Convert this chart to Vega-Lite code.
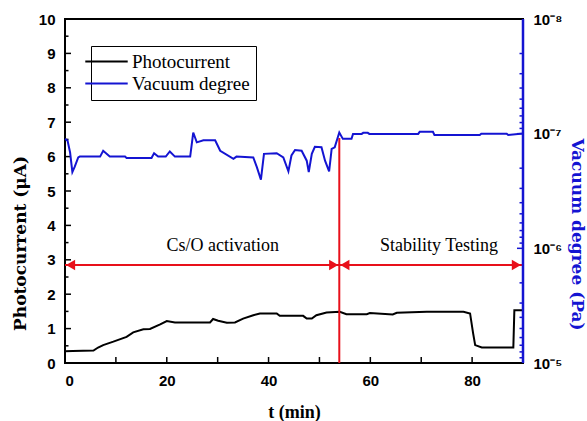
{
  "$schema": "https://vega.github.io/schema/vega-lite/v6.json",
  "width": 458,
  "height": 344,
  "autosize": "none",
  "padding": {"left": 65, "top": 19, "right": 64, "bottom": 58},
  "background": "white",
  "config": {
    "view": {"stroke": "black", "strokeWidth": 2},
    "axis": {
      "grid": false,
      "domain": false,
      "ticks": false,
      "tickSize": 0,
      "labelFont": "Liberation Sans",
      "labelFontWeight": "bold",
      "labelFontSize": 15,
      "labelColor": "black",
      "titleFont": "DejaVu Serif",
      "titleFontWeight": "bold",
      "titleFontSize": 17
    }
  },
  "datasets": {
    "current": [
      {"t": 0, "current": 0.34}, {"t": 1.5, "current": 0.35}, {"t": 5.6, "current": 0.36}, {"t": 6.5, "current": 0.45},
      {"t": 7.5, "current": 0.52}, {"t": 9.5, "current": 0.62}, {"t": 12.1, "current": 0.76}, {"t": 13.4, "current": 0.89},
      {"t": 15.4, "current": 0.98}, {"t": 16.7, "current": 0.99}, {"t": 18.7, "current": 1.12}, {"t": 20, "current": 1.22},
      {"t": 21.6, "current": 1.18}, {"t": 28.5, "current": 1.18}, {"t": 29.1, "current": 1.28}, {"t": 30.1, "current": 1.23},
      {"t": 31.8, "current": 1.17}, {"t": 33.4, "current": 1.18}, {"t": 35, "current": 1.29}, {"t": 37, "current": 1.39},
      {"t": 38.3, "current": 1.44}, {"t": 41.6, "current": 1.44}, {"t": 42.2, "current": 1.37}, {"t": 46.8, "current": 1.37},
      {"t": 47.5, "current": 1.29}, {"t": 48.5, "current": 1.29}, {"t": 49.4, "current": 1.39}, {"t": 51.4, "current": 1.47},
      {"t": 54, "current": 1.49}, {"t": 55.3, "current": 1.42}, {"t": 59.3, "current": 1.42}, {"t": 59.9, "current": 1.45},
      {"t": 64.4, "current": 1.41}, {"t": 65.2, "current": 1.46}, {"t": 71.1, "current": 1.49}, {"t": 78.3, "current": 1.49},
      {"t": 79.6, "current": 1.44}, {"t": 80.2, "current": 0.86}, {"t": 80.6, "current": 0.52}, {"t": 81.9, "current": 0.45},
      {"t": 88.1, "current": 0.45}, {"t": 88.3, "current": 1.53}, {"t": 90, "current": 1.53}
    ],
    "vacuum": [
      {"t": 0, "p": 1.11e-7}, {"t": 0.5, "p": 1.15e-7}, {"t": 1.0, "p": 1.46e-7}, {"t": 1.45, "p": 2.16e-7},
      {"t": 1.9, "p": 1.95e-7}, {"t": 2.6, "p": 1.61e-7}, {"t": 2.9, "p": 1.585e-7}, {"t": 6.9, "p": 1.585e-7},
      {"t": 7.5, "p": 1.41e-7}, {"t": 8.8, "p": 1.585e-7}, {"t": 11.8, "p": 1.585e-7}, {"t": 12.1, "p": 1.63e-7},
      {"t": 17.0, "p": 1.63e-7}, {"t": 17.5, "p": 1.48e-7}, {"t": 18.3, "p": 1.585e-7}, {"t": 19.8, "p": 1.585e-7},
      {"t": 20.6, "p": 1.43e-7}, {"t": 21.6, "p": 1.585e-7}, {"t": 24.6, "p": 1.585e-7}, {"t": 25.2, "p": 9.77e-8},
      {"t": 25.9, "p": 1.19e-7}, {"t": 27.2, "p": 1.14e-7}, {"t": 29.5, "p": 1.14e-7}, {"t": 30.5, "p": 1.41e-7},
      {"t": 33.1, "p": 1.66e-7}, {"t": 33.7, "p": 1.585e-7}, {"t": 37.0, "p": 1.61e-7}, {"t": 37.7, "p": 1.96e-7},
      {"t": 38.5, "p": 2.52e-7}, {"t": 39.1, "p": 1.5e-7}, {"t": 41.6, "p": 1.48e-7}, {"t": 42.9, "p": 1.61e-7},
      {"t": 43.9, "p": 2.13e-7}, {"t": 44.5, "p": 1.55e-7}, {"t": 45.2, "p": 1.39e-7}, {"t": 46.5, "p": 1.41e-7},
      {"t": 47.5, "p": 1.72e-7}, {"t": 47.9, "p": 2.16e-7}, {"t": 48.5, "p": 1.5e-7}, {"t": 49.1, "p": 1.3e-7},
      {"t": 50.4, "p": 1.315e-7}, {"t": 51.1, "p": 1.72e-7}, {"t": 51.9, "p": 2.13e-7}, {"t": 52.4, "p": 1.36e-7},
      {"t": 53.0, "p": 1.315e-7}, {"t": 53.9, "p": 9.77e-8}, {"t": 54.6, "p": 1.11e-7}, {"t": 56.3, "p": 1.11e-7},
      {"t": 56.6, "p": 1.005e-7}, {"t": 58.3, "p": 1.005e-7}, {"t": 58.6, "p": 9.84e-8}, {"t": 59.5, "p": 9.84e-8},
      {"t": 59.8, "p": 1.005e-7}, {"t": 69.4, "p": 1.005e-7}, {"t": 69.7, "p": 9.64e-8}, {"t": 72.3, "p": 9.64e-8},
      {"t": 72.6, "p": 1.026e-7}, {"t": 81.5, "p": 1.026e-7}, {"t": 81.8, "p": 1.0e-7}, {"t": 86.8, "p": 1.0e-7},
      {"t": 87.1, "p": 1.026e-7}, {"t": 90, "p": 9.98e-8}
    ],
    "marker": [{"t": 53.9, "v0": 0, "v1": 6.54}],
    "frame": [{"t": 90, "v0": 0, "v1": 10}],
    "yMajor": [{"v": 1}, {"v": 2}, {"v": 3}, {"v": 4}, {"v": 5}, {"v": 6}, {"v": 7}, {"v": 8}, {"v": 9}],
    "yMinor": [{"v": 0.5}, {"v": 1.5}, {"v": 2.5}, {"v": 3.5}, {"v": 4.5}, {"v": 5.5}, {"v": 6.5}, {"v": 7.5}, {"v": 8.5}, {"v": 9.5}],
    "xTicks": [{"t": 10}, {"t": 20}, {"t": 30}, {"t": 40}, {"t": 50}, {"t": 60}, {"t": 70}, {"t": 80}],
    "pMajor": [{"p": 1e-7}, {"p": 1e-6}],
    "pMinor": [
      {"p": 2e-8}, {"p": 3e-8}, {"p": 4e-8}, {"p": 5e-8}, {"p": 6e-8}, {"p": 7e-8}, {"p": 8e-8}, {"p": 9e-8},
      {"p": 2e-7}, {"p": 3e-7}, {"p": 4e-7}, {"p": 5e-7}, {"p": 6e-7}, {"p": 7e-7}, {"p": 8e-7}, {"p": 9e-7},
      {"p": 2e-6}, {"p": 3e-6}, {"p": 4e-6}, {"p": 5e-6}, {"p": 6e-6}, {"p": 7e-6}, {"p": 8e-6}, {"p": 9e-6}
    ],
    "arrows": [{"t0": 0, "t1": 53.9, "v": 2.85}, {"t0": 53.9, "t1": 89.8, "v": 2.85}],
    "heads": [
      {"t": 1.1, "v": 2.85, "dir": "left"}, {"t": 52.8, "v": 2.85, "dir": "right"},
      {"t": 55.0, "v": 2.85, "dir": "left"}, {"t": 88.7, "v": 2.85, "dir": "right"}
    ],
    "notes": [
      {"t": 31, "v": 3.4, "label": "Cs/O activation"},
      {"t": 73.5, "v": 3.4, "label": "Stability Testing"}
    ]
  },
  "layer": [
    {
      "data": {"name": "current"},
      "mark": {"type": "line", "color": "black", "strokeWidth": 2},
      "encoding": {
        "x": {
          "field": "t", "type": "quantitative",
          "scale": {"domain": [0, 90], "nice": false},
          "axis": {
            "title": "t (min)",
            "values": [0, 20, 40, 60, 80],
            "labelOverlap": false,
            "labelPadding": 10, "titlePadding": 15, "titleFontSize": 18,
            "titleFont": "Liberation Serif"
          }
        },
        "y": {
          "field": "current", "type": "quantitative",
          "scale": {"domain": [0, 10], "nice": false},
          "axis": {
            "title": "Photocurrent (μA)",
            "format": ".0f",
            "values": [0, 1, 2, 3, 4, 5, 6, 7, 8, 9, 10],
            "labelOverlap": false,
            "labelPadding": 10, "titlePadding": 9, "titleY": 224
          }
        },
        "color": {
          "datum": "Photocurrent",
          "type": "nominal",
          "scale": {"domain": ["Photocurrent", "Vacuum degree"], "range": ["black", "#1414d2"]},
          "legend": {
            "title": null,
            "orient": "none", "legendX": 26, "legendY": 27,
            "direction": "vertical",
            "symbolType": "M-3,0L3,0", "symbolSize": 200, "symbolStrokeWidth": 2,
            "labelFont": "Liberation Serif", "labelFontSize": 19, "labelColor": "black",
            "strokeColor": "black", "fillColor": "white", "padding": 6, "rowPadding": 2,
            "labelOffset": 16
          }
        }
      }
    },
    {
      "data": {"name": "yMajor"},
      "mark": {"type": "tick", "orient": "horizontal", "color": "black", "size": 6, "thickness": 1.5, "xOffset": 3, "opacity": 1},
      "encoding": {
        "x": {"datum": 0, "type": "quantitative"},
        "y": {"field": "v", "type": "quantitative", "scale": {"domain": [0, 10], "nice": false}, "axis": null}
      }
    },
    {
      "data": {"name": "yMinor"},
      "mark": {"type": "tick", "orient": "horizontal", "color": "black", "size": 3.5, "thickness": 1.5, "xOffset": 1.75, "opacity": 1},
      "encoding": {
        "x": {"datum": 0, "type": "quantitative"},
        "y": {"field": "v", "type": "quantitative", "scale": {"domain": [0, 10], "nice": false}, "axis": null}
      }
    },
    {
      "data": {"name": "xTicks"},
      "mark": {"type": "tick", "orient": "vertical", "color": "black", "size": 6, "thickness": 1.5, "yOffset": -3, "opacity": 1},
      "encoding": {
        "x": {"field": "t", "type": "quantitative"},
        "y": {"datum": 0, "type": "quantitative", "scale": {"domain": [0, 10], "nice": false}, "axis": null}
      }
    },
    {
      "data": {"name": "marker"},
      "mark": {"type": "rule", "color": "#e8101a", "strokeWidth": 2},
      "encoding": {
        "x": {"field": "t", "type": "quantitative"},
        "y": {"field": "v0", "type": "quantitative", "scale": {"domain": [0, 10], "nice": false}, "axis": null},
        "y2": {"field": "v1"}
      }
    },
    {
      "data": {"name": "arrows"},
      "mark": {"type": "rule", "color": "#e8101a", "strokeWidth": 2},
      "encoding": {
        "x": {"field": "t0", "type": "quantitative"},
        "x2": {"field": "t1"},
        "y": {"field": "v", "type": "quantitative", "scale": {"domain": [0, 10], "nice": false}, "axis": null}
      }
    },
    {
      "data": {"name": "heads"},
      "mark": {"type": "point", "filled": true, "color": "#e8101a", "opacity": 1, "size": 110},
      "encoding": {
        "x": {"field": "t", "type": "quantitative"},
        "y": {"field": "v", "type": "quantitative", "scale": {"domain": [0, 10], "nice": false}, "axis": null},
        "shape": {
          "field": "dir", "type": "nominal",
          "scale": {"domain": ["left", "right"], "range": ["triangle-left", "triangle-right"]},
          "legend": null
        }
      }
    },
    {
      "data": {"name": "notes"},
      "mark": {"type": "text", "font": "Liberation Serif", "fontSize": 18, "color": "black", "baseline": "middle"},
      "encoding": {
        "x": {"field": "t", "type": "quantitative"},
        "y": {"field": "v", "type": "quantitative", "scale": {"domain": [0, 10], "nice": false}, "axis": null},
        "text": {"field": "label"}
      }
    },
    {
      "data": {"name": "vacuum"},
      "mark": {"type": "line", "strokeWidth": 2},
      "encoding": {
        "x": {"field": "t", "type": "quantitative"},
        "y": {
          "field": "p", "type": "quantitative",
          "scale": {"type": "log", "domain": [1e-5, 1e-8], "nice": false},
          "axis": {
            "orient": "right",
            "title": "Vacuum degree (Pa)",
            "titleColor": "#1414d2",
            "values": [1e-8, 1e-7, 1e-6, 1e-5],
            "labelExpr": "datum.value == 1e-8 ? '10⁻⁸' : datum.value == 1e-7 ? '10⁻⁷' : datum.value == 1e-6 ? '10⁻⁶' : '10⁻⁵'",
            "labelOverlap": false,
            "labelPadding": 10, "titlePadding": 6, "titleY": 215
          }
        },
        "color": {"datum": "Vacuum degree", "type": "nominal"}
      }
    },
    {
      "data": {"name": "pMajor"},
      "mark": {"type": "tick", "orient": "horizontal", "color": "#1414d2", "size": 6, "thickness": 1.5, "xOffset": -3, "opacity": 1},
      "encoding": {
        "x": {"datum": 90, "type": "quantitative"},
        "y": {"field": "p", "type": "quantitative", "scale": {"type": "log", "domain": [1e-5, 1e-8], "nice": false}, "axis": null}
      }
    },
    {
      "data": {"name": "pMinor"},
      "mark": {"type": "tick", "orient": "horizontal", "color": "#1414d2", "size": 3.5, "thickness": 1.5, "xOffset": -1.75, "opacity": 1},
      "encoding": {
        "x": {"datum": 90, "type": "quantitative"},
        "y": {"field": "p", "type": "quantitative", "scale": {"type": "log", "domain": [1e-5, 1e-8], "nice": false}, "axis": null}
      }
    },
    {
      "data": {"name": "frame"},
      "mark": {"type": "rule", "color": "#1414d2", "strokeWidth": 2.5},
      "encoding": {
        "x": {"field": "t", "type": "quantitative"},
        "y": {"field": "v0", "type": "quantitative", "scale": {"domain": [0, 10], "nice": false}, "axis": null},
        "y2": {"field": "v1"}
      }
    }
  ],
  "resolve": {"scale": {"y": "independent"}}
}
